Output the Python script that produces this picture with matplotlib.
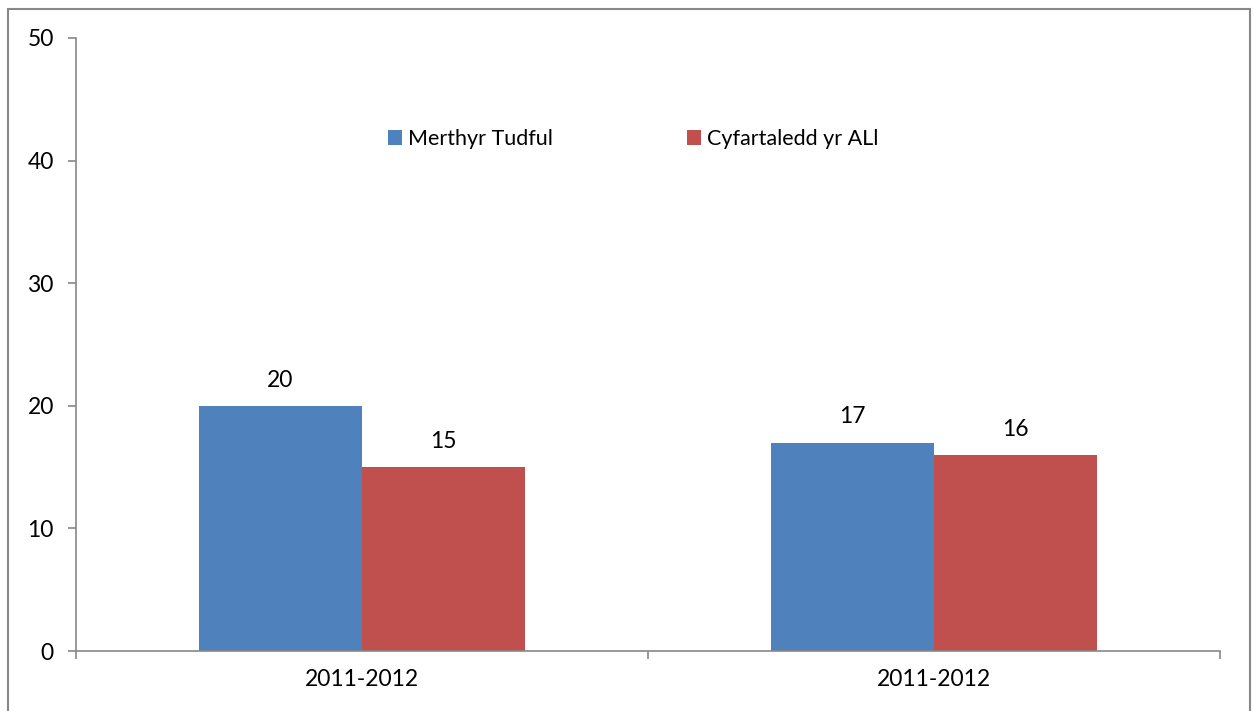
import numpy as np
import matplotlib.pyplot as plt
from matplotlib.patches import Rectangle

# data
categories = ["2011-2012", "2011-2012"]
merthyr = [20, 17]
average = [15, 16]
series_names = ["Merthyr Tudful", "Cyfartaledd yr ALl"]
colors = ["#4F81BD", "#C0504D"]

plt.rcParams['font.family'] = ['Lato', 'DejaVu Sans']

fig = plt.figure(figsize=(12.54, 7.11), dpi=100)
ax = fig.add_axes([76/1254, 1 - 651/711, (1220 - 76)/1254, (651 - 38)/711])

x = np.arange(len(categories))
w = 0.285
b1 = ax.bar(x - w/2, merthyr, w, color=colors[0], label=series_names[0])
b2 = ax.bar(x + w/2, average, w, color=colors[1], label=series_names[1])

for bars in (b1, b2):
    for r in bars:
        ax.annotate("%d" % r.get_height(), (r.get_x() + r.get_width()/2, r.get_height()),
                    xytext=(0, 11), textcoords="offset points",
                    ha="center", va="bottom", fontsize=16.5)

ax.set_xlim(-0.5, len(categories) - 0.5)
ax.set_ylim(0, 50)
ax.set_yticks([0, 10, 20, 30, 40, 50])
ax.set_xticks(x)
ax.set_xticklabels(categories)
# category boundary ticks
ax.set_xticks(np.arange(-0.5, len(categories)), minor=True)
ax.tick_params(axis="x", which="major", length=0, pad=13, labelsize=16.5)
ax.tick_params(axis="x", which="minor", length=6, color="#888888", width=1.2)
ax.tick_params(axis="y", length=6, color="#888888", width=1.2, pad=10, labelsize=16.5)

for s in ["top", "right"]:
    ax.spines[s].set_visible(False)
for s in ["left", "bottom"]:
    ax.spines[s].set_color("#888888")
    ax.spines[s].set_linewidth(1.2)

ax.legend(loc="center", bbox_to_anchor=(0.487, 0.835), ncol=2, frameon=False,
          fontsize=15.5, handlelength=0.65, handleheight=0.65, handletextpad=0.3,
          columnspacing=6.2)

# outer chart frame
fig.patches.append(Rectangle((8/1254, -0.05), (1250 - 8)/1254, 1.05 - 9/711,
                             transform=fig.transFigure, fill=False,
                             edgecolor="#888888", linewidth=1.5))

fig.savefig("out.png", dpi=100)
